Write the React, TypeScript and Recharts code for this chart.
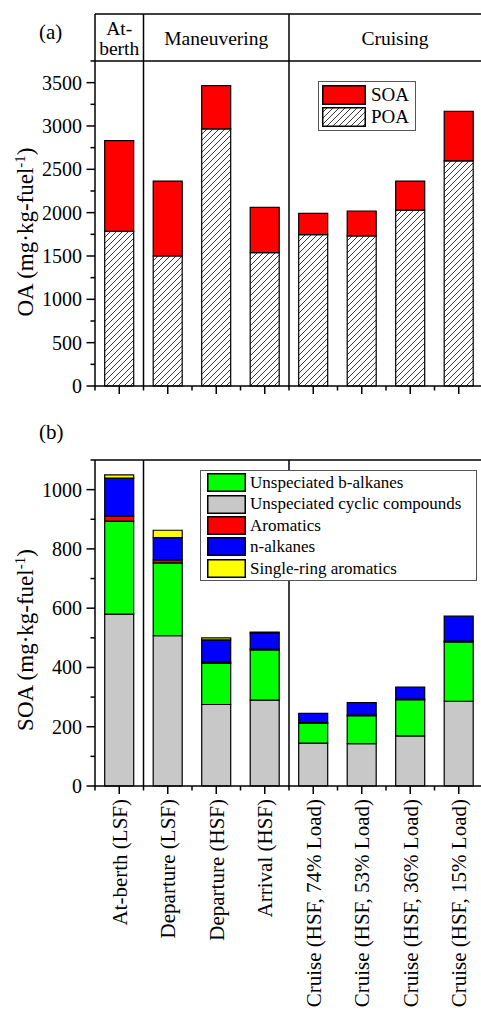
import React from 'react';
import { BarChart, Bar, XAxis, YAxis, ReferenceLine, ReferenceArea, Legend } from 'recharts';

const categories = [
  'At-berth (LSF)',
  'Departure (LSF)',
  'Departure (HSF)',
  'Arrival (HSF)',
  'Cruise (HSF, 74% Load)',
  'Cruise (HSF, 53% Load)',
  'Cruise (HSF, 36% Load)',
  'Cruise (HSF, 15% Load)',
];

// Panel (a): OA = POA + SOA
const poaValues = [1785, 1500, 2966, 1539, 1746, 1731, 2030, 2598];
const soaValues = [1047, 864, 500, 522, 246, 288, 334, 572];

// Panel (b): SOA by precursor class
const cyclicValues = [580, 507, 275, 290, 145, 143, 169, 286];
const bAlkaneValues = [314, 246, 139, 169, 67, 94, 122, 200];
const aromaticValues = [17, 10, 4, 3, 2, 2, 2, 3];
const nAlkaneValues = [128, 75, 75, 54, 31, 42, 41, 84];
const singleRingValues = [11, 25, 7, 3, 0, 0, 0, 0];

const oaTicks = [0, 250, 500, 750, 1000, 1250, 1500, 1750, 2000, 2250, 2500, 2750, 3000, 3250, 3500, 3750];
const soaTicks = [0, 100, 200, 300, 400, 500, 600, 700, 800, 900, 1000, 1100];
const OA_HEADER = 3750;
const OA_TOP = 4292;
const SOA_TOP = 1100;

const phases = [
  { lines: ['At-', 'berth'], from: 0, to: 0, shift: 0 },
  { lines: ['Maneuvering'], from: 1, to: 3, shift: 0 },
  { lines: ['Cruising'], from: 4, to: 7, shift: 9 },
];
const separators = [1, 4];

const oaSeries = [
  { key: 'soa', name: 'SOA', fill: '#ff0000' },
  { key: 'poa', name: 'POA', fill: 'url(#hatch)' },
];
const soaStack = [
  { key: 'cyclic', name: 'Unspeciated cyclic compounds', fill: '#c8c8c8' },
  { key: 'balk', name: 'Unspeciated b-alkanes', fill: '#00ff00' },
  { key: 'arom', name: 'Aromatics', fill: '#ff0000' },
  { key: 'nalk', name: 'n-alkanes', fill: '#0000ff' },
  { key: 'single', name: 'Single-ring aromatics', fill: '#ffff00' },
];
const soaLegendOrder = ['balk', 'cyclic', 'arom', 'nalk', 'single'];

const oaData = categories.map((c, i) => ({ name: c, poa: poaValues[i], soa: soaValues[i] }));
const soaData = categories.map((c, i) => ({
  name: c,
  cyclic: cyclicValues[i],
  balk: bAlkaneValues[i],
  arom: aromaticValues[i],
  nalk: nAlkaneValues[i],
  single: singleRingValues[i],
}));

const FONT = '"Liberation Serif", "Times New Roman", serif';
const CHART_W = 500;
const Y_AXIS_W = 95;
const MARGIN_R = 17;
const BAND = (CHART_W - Y_AXIS_W - MARGIN_R) / categories.length;

const XTick = (props: any) => {
  const { x, y, payload, showLabel } = props;
  return (
    <g>
      <line x1={x} x2={x} y1={y} y2={y + 8} stroke="#000" strokeWidth={1.5} />
      <line x1={x - BAND / 2} x2={x - BAND / 2} y1={y} y2={y + 4.5} stroke="#000" strokeWidth={1.5} />
      {showLabel && (
        <text
          transform={`translate(${x},${y + 13}) rotate(-90)`}
          textAnchor="end"
          dy="0.35em"
          fontSize={21}
          fontFamily={FONT}
          fill="#000"
        >
          {payload.value}
        </text>
      )}
    </g>
  );
};

const YTick = (props: any) => {
  const { x, y, payload, major } = props;
  const isMajor = payload.value % major === 0;
  return (
    <g>
      <line x1={x - (isMajor ? 8.5 : 4.5)} x2={x} y1={y} y2={y} stroke="#000" strokeWidth={1.5} />
      {isMajor && (
        <text x={x - 13} y={y} dy="0.35em" textAnchor="end" fontSize={20} fontFamily={FONT} fill="#000">
          {payload.value}
        </text>
      )}
    </g>
  );
};

const YLabel = (props: any) => {
  const { viewBox, main, shift } = props;
  const cx = viewBox.x + 25;
  const cy = viewBox.y + viewBox.height / 2 + shift;
  return (
    <text
      transform={`translate(${cx},${cy}) rotate(-90)`}
      textAnchor="middle"
      dy="0.35em"
      fontSize={23}
      fontFamily={FONT}
      fill="#000"
    >
      <tspan>{main} (mg·kg-fuel</tspan>
      <tspan dy={-8} fontSize={15}>-1</tspan>
      <tspan dy={8}>)</tspan>
    </text>
  );
};

const HeaderLabel = (props: any) => {
  const { viewBox, lines, shift } = props;
  const cx = viewBox.x + viewBox.width / 2 + (shift || 0);
  const cy = viewBox.y + viewBox.height / 2;
  const lh = 20;
  return (
    <text x={cx} y={cy} textAnchor="middle" fontSize={19.5} fontFamily={FONT} fill="#000">
      {lines.map((l: string, i: number) => (
        <tspan key={i} x={cx} dy={i === 0 ? -((lines.length - 1) * lh) / 2 + 8 : lh}>
          {l}
        </tspan>
      ))}
    </text>
  );
};

const HatchDefs = ({ id }: { id: string }) => (
  <defs>
    <pattern id={id} patternUnits="userSpaceOnUse" width={6} height={6}>
      <rect width={6} height={6} fill="#fff" />
      <path d="M-1,1 l2,-2 M0,6 l6,-6 M5,7 l2,-2" stroke="#222" strokeWidth={0.9} />
    </pattern>
  </defs>
);

const OALegend = () => (
  <div
    style={{
      border: '1px solid #555',
      background: '#fff',
      padding: '2px 6px 2px 3px',
      fontFamily: FONT,
      fontSize: 19,
      lineHeight: '22px',
    }}
  >
    {oaSeries.map((s) => (
      <div key={s.key} style={{ display: 'flex', alignItems: 'center', height: 22 }}>
        <svg width={44} height={20} style={{ display: 'block' }}>
          <HatchDefs id={`lg-${s.key}`} />
          <rect
            x={0.75}
            y={0.75}
            width={42.5}
            height={18.5}
            fill={s.key === 'poa' ? `url(#lg-${s.key})` : s.fill}
            stroke="#000"
            strokeWidth={1.5}
          />
        </svg>
        <span style={{ marginLeft: 5 }}>{s.name}</span>
      </div>
    ))}
  </div>
);

const SOALegend = () => (
  <div
    style={{
      border: '1px solid #555',
      background: '#fff',
      padding: '1px 10px 1px 6px',
      width: 259,
      fontFamily: FONT,
      fontSize: 17,
      lineHeight: '21.4px',
    }}
  >
    {soaLegendOrder.map((k) => {
      const s = soaStack.find((x) => x.key === k)!;
      return (
        <div key={k} style={{ display: 'flex', alignItems: 'center', height: 21.4 }}>
          <svg width={39} height={19} style={{ display: 'block' }}>
            <rect x={0.75} y={0.75} width={37.5} height={17.5} fill={s.fill} stroke="#000" strokeWidth={1.5} />
          </svg>
          <span style={{ marginLeft: 4, whiteSpace: 'nowrap' }}>{s.name}</span>
        </div>
      );
    })}
  </div>
);

const panelLabel = (text: string, top: number) => (
  <div
    style={{
      position: 'absolute',
      left: 39,
      top,
      fontFamily: FONT,
      fontSize: 21,
      lineHeight: '21px',
      color: '#000',
    }}
  >
    {text}
  </div>
);

export default function App() {
  return (
    <div
      style={{
        position: 'absolute',
        left: 0,
        top: 0,
        width: 481,
        height: 1014,
        overflow: 'hidden',
        background: '#fff',
      }}
    >
      <div style={{ position: 'absolute', left: 0, top: 0 }}>
        <BarChart
          width={CHART_W}
          height={400}
          data={oaData}
          margin={{ top: 14, right: MARGIN_R, left: 0, bottom: 0 }}
          barCategoryGap="20%"
        >
          <HatchDefs id="hatch" />
          <XAxis
            dataKey="name"
            height={14}
            interval={0}
            tickLine={false}
            tickSize={0}
            tickMargin={0}
            axisLine={{ stroke: '#000', strokeWidth: 1.5 }}
            tick={<XTick showLabel={false} />}
          />
          <YAxis
            width={Y_AXIS_W}
            domain={[0, OA_TOP]}
            ticks={oaTicks}
            interval={0}
            tickLine={false}
            tickSize={0}
            tickMargin={0}
            axisLine={{ stroke: '#000', strokeWidth: 1.5 }}
            tick={<YTick major={500} />}
            label={<YLabel main="OA" shift={32} />}
          />
          <Bar dataKey="poa" stackId="a" fill="url(#hatch)" stroke="#000" strokeWidth={1.2} isAnimationActive={false} />
          <Bar dataKey="soa" stackId="a" fill="#ff0000" stroke="#000" strokeWidth={1.2} isAnimationActive={false} />
          {phases.map((p) => (
            <ReferenceArea
              key={p.lines.join('')}
              x1={categories[p.from]}
              x2={categories[p.to]}
              y1={OA_HEADER}
              y2={OA_TOP}
              fillOpacity={0}
              strokeOpacity={0}
              label={<HeaderLabel lines={p.lines} shift={p.shift} />}
            />
          ))}
          <ReferenceLine y={OA_HEADER} stroke="#000" strokeWidth={1.5} />
          <ReferenceLine y={OA_TOP} stroke="#000" strokeWidth={1.5} />
          {separators.map((s) => (
            <ReferenceLine key={s} x={categories[s]} position="start" stroke="#000" strokeWidth={1.5} />
          ))}
          <Legend
            content={<OALegend />}
            layout="vertical"
            align="center"
            verticalAlign="middle"
            wrapperStyle={{ position: 'absolute', left: 318, top: 81, width: 'auto', height: 'auto' }}
          />
        </BarChart>
      </div>
      {panelLabel('(a)', 22)}

      <div style={{ position: 'absolute', left: 0, top: 400 }}>
        <BarChart
          width={CHART_W}
          height={614}
          data={soaData}
          margin={{ top: 60, right: MARGIN_R, left: 0, bottom: 28 }}
          barCategoryGap="20%"
        >
          <XAxis
            dataKey="name"
            height={200}
            interval={0}
            tickLine={false}
            tickSize={0}
            tickMargin={0}
            axisLine={{ stroke: '#000', strokeWidth: 1.5 }}
            tick={<XTick showLabel={true} />}
          />
          <YAxis
            width={Y_AXIS_W}
            domain={[0, SOA_TOP]}
            ticks={soaTicks}
            interval={0}
            tickLine={false}
            tickSize={0}
            tickMargin={0}
            axisLine={{ stroke: '#000', strokeWidth: 1.5 }}
            tick={<YTick major={200} />}
            label={<YLabel main="SOA" shift={17} />}
          />
          {soaStack.map((s) => (
            <Bar
              key={s.key}
              dataKey={s.key}
              name={s.name}
              stackId="b"
              fill={s.fill}
              stroke="#000"
              strokeWidth={1.2}
              isAnimationActive={false}
            />
          ))}
          <ReferenceLine y={SOA_TOP} stroke="#000" strokeWidth={1.5} />
          {separators.map((s) => (
            <ReferenceLine key={s} x={categories[s]} position="start" stroke="#000" strokeWidth={1.5} />
          ))}
          <Legend
            content={<SOALegend />}
            layout="vertical"
            align="center"
            verticalAlign="middle"
            wrapperStyle={{ position: 'absolute', left: 200, top: 70, width: 'auto', height: 'auto' }}
          />
        </BarChart>
      </div>
      {panelLabel('(b)', 422)}
    </div>
  );
}
